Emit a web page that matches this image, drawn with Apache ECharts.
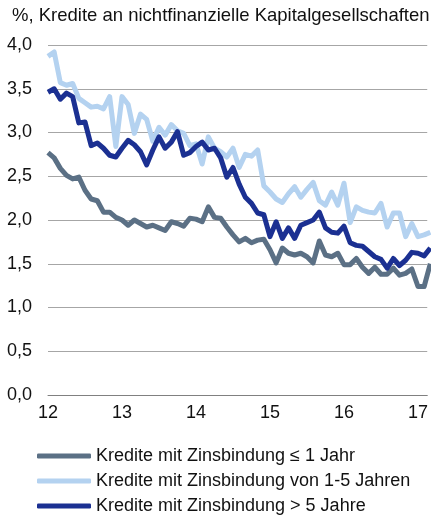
<!DOCTYPE html>
<html>
<head>
<meta charset="utf-8">
<script src="https://cdn.jsdelivr.net/npm/echarts@6/dist/echarts.min.js"></script>
<style>
  html, body { margin: 0; padding: 0; background: #fff; }
  #chart { width: 431px; height: 517px; }
</style>
</head>
<body>
<div id="chart"></div>
<script>
// monthly values, Jan 2012 onwards (index 0 = Jan 2012)
const months = [];
for (let y = 2012; y <= 2017; y++) {
  for (let m = 1; m <= 12; m++) months.push(y + "-" + String(m).padStart(2, "0"));
}

const upTo1Year = [
  2.77, 2.71, 2.59, 2.51, 2.47, 2.49, 2.34, 2.24, 2.22, 2.09, 2.09, 2.03,
  2.00, 1.94, 2.00, 1.96, 1.92, 1.94, 1.91, 1.88, 1.98, 1.96, 1.93, 2.02,
  2.01, 1.98, 2.15, 2.03, 2.02, 1.92, 1.83, 1.75, 1.79, 1.74, 1.77, 1.78,
  1.66, 1.51, 1.68, 1.62, 1.60, 1.62, 1.58, 1.51, 1.76, 1.60, 1.58, 1.62,
  1.49, 1.49, 1.56, 1.46, 1.39, 1.46, 1.38, 1.38, 1.45, 1.37, 1.39, 1.44,
  1.24, 1.24, 1.50
];

const from1to5Years = [
  3.87, 3.92, 3.57, 3.54, 3.56, 3.39, 3.34, 3.29, 3.30, 3.27, 3.41, 2.84,
  3.41, 3.32, 2.99, 3.21, 3.15, 2.90, 3.06, 2.97, 3.09, 3.02, 2.99, 2.85,
  2.87, 2.64, 2.95, 2.82, 2.78, 2.72, 2.82, 2.60, 2.75, 2.73, 2.80, 2.39,
  2.32, 2.24, 2.20, 2.30, 2.38, 2.26, 2.35, 2.43, 2.22, 2.17, 2.32, 2.17,
  2.42, 1.97, 2.15, 2.11, 2.09, 2.08, 2.19, 1.92, 2.08, 2.08, 1.81, 1.96,
  1.81, 1.83, 1.86
];

const over5Years = [
  3.46, 3.50, 3.38, 3.45, 3.41, 3.11, 3.12, 2.85, 2.88, 2.82, 2.74, 2.72,
  2.82, 2.91, 2.86, 2.78, 2.63, 2.80, 2.95, 2.82, 2.89, 3.01, 2.74, 2.77,
  2.84, 2.89, 2.80, 2.82, 2.71, 2.49, 2.60, 2.41, 2.26, 2.19, 2.08, 2.06,
  1.81, 1.98, 1.79, 1.91, 1.79, 1.94, 1.97, 2.00, 2.09, 1.91, 1.86, 1.85,
  1.93, 1.74, 1.71, 1.70, 1.64, 1.58, 1.55, 1.45, 1.56, 1.48, 1.54, 1.63,
  1.62, 1.59, 1.68
];

const seriesNames = [
  "Kredite mit Zinsbindung \u2264 1 Jahr",
  "Kredite mit Zinsbindung von 1-5 Jahren",
  "Kredite mit Zinsbindung > 5 Jahre"
];
const seriesColors = ["#5b7085", "#b4d2f0", "#1b3092"];
const seriesValues = [upTo1Year, from1to5Years, over5Years];

const font = "'Liberation Sans', Arial, sans-serif";

const chart = echarts.init(document.getElementById("chart"));

chart.setOption({
  animation: false,
  textStyle: { fontFamily: font },
  title: {
    text: "%, Kredite an nichtfinanzielle Kapitalgesellschaften",
    left: 12,
    top: 6,
    padding: 0,
    textStyle: { fontSize: 18.5, fontWeight: "normal", color: "#111", fontFamily: font }
  },
  grid: { left: 48, right: 0, top: 45, bottom: 122 },
  legend: {
    orient: "vertical",
    left: 37,
    top: 446,
    padding: 0,
    itemWidth: 54,
    itemHeight: 5,
    itemGap: 5,
    icon: "roundRect",
    textStyle: { fontSize: 18, color: "#111", lineHeight: 20, fontFamily: font },
    data: seriesNames
  },
  xAxis: {
    type: "value",
    min: 0,
    max: 61.5,
    interval: 12,
    axisLine: { show: true, lineStyle: { color: "#808080", width: 1 } },
    axisTick: { show: false },
    splitLine: { show: false },
    axisLabel: {
      fontSize: 18,
      color: "#111",
      margin: 9,
      showMaxLabel: false,
      formatter: v => (v % 12 === 0 ? String(12 + v / 12) : "")
    }
  },
  yAxis: {
    type: "value",
    min: 0,
    max: 4,
    interval: 0.5,
    axisLine: { show: false },
    axisTick: { show: false },
    splitLine: { lineStyle: { color: "#a6a6a6", width: 1 } },
    axisLabel: {
      fontSize: 18,
      color: "#111",
      margin: 16,
      formatter: v => v.toFixed(1).replace(".", ",")
    }
  },
  series: seriesValues.map((vals, k) => ({
    name: seriesNames[k],
    type: "line",
    data: vals.map((v, i) => [i, v]),
    symbol: "none",
    clip: true,
    lineStyle: { color: seriesColors[k], width: 5, join: "round" },
    itemStyle: { color: seriesColors[k] }
  }))
});
</script>
</body>
</html>
